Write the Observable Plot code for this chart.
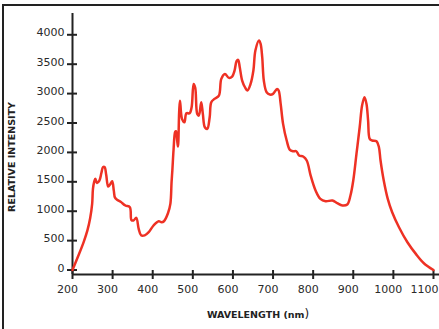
<!DOCTYPE html>
<html><head><meta charset="utf-8">
<script src="https://cdn.jsdelivr.net/npm/d3@7"></script>
<script src="https://cdn.jsdelivr.net/npm/@observablehq/plot@0.6"></script>
<style>html,body{margin:0;padding:0;background:#fff;} #chart{width:439px;height:329px;overflow:hidden}</style>
</head><body><div id="chart"></div>
<script>
const wavelength = [200,215,228,237,244,249,251,254,257,261,267,272,276,280,284,289,294,299,303,306,312,320,332,343,347,352,359,365,371,380,390,402,415,422,428,438,444,447,449,452,456,458,461,463,466,468,473,479,484,492,497,502,506,511,515,521,525,530,536,542,546,554,565,571,580,590,598,604,609,613,617,623,630,636,644,651,656,665,669,673,677,684,692,700,710,714,719,725,734,742,750,758,765,775,784,794,806,818,831,848,860,873,885,893,900,908,916,922,928,933,937,941,947,958,964,968,976,986,997,1014,1035,1056,1076,1100];
const intensity = [0,250,480,670,880,1125,1380,1500,1550,1480,1520,1650,1748,1750,1620,1420,1460,1510,1350,1230,1190,1160,1097,1068,850,842,887,700,590,590,643,757,830,813,830,966,1125,1500,1700,2050,2350,2360,2200,2100,2700,2880,2570,2513,2666,2666,2768,3165,3100,2655,2626,2853,2655,2428,2400,2598,2853,2910,2966,3250,3335,3267,3290,3391,3550,3574,3448,3222,3108,3052,3165,3392,3732,3902,3845,3618,3222,3023,2984,2995,3080,3052,2825,2485,2202,2043,2020,2020,1947,1930,1862,1600,1352,1210,1170,1182,1136,1097,1114,1267,1522,1976,2428,2797,2938,2825,2542,2230,2202,2190,2088,1862,1522,1210,983,728,473,275,116,0];
const xTicks = [200,300,400,500,600,700,800,900,1000,1100];
const yTicks = [0,500,1000,1500,2000,2500,3000,3500,4000];
const xTitle = "WAVELENGTH (nm";
const xTitleEnd = ")";
const yTitle = "RELATIVE INTENSITY";

const data = wavelength.map((w, i) => ({w, v: intensity[i]}));
const ink = "#222";
const fmt = d3.format("d");
const lastX = xTicks[xTicks.length - 1];
const plot = Plot.plot({
  width: 439, height: 329,
  marginLeft: 72, marginRight: 0, marginTop: 13, marginBottom: 55,
  x: {domain: [200, 1115]},
  y: {domain: [-76, 4362]},
  style: {fontFamily: "DejaVu Sans", fontSize: "11px", color: "#2a2a2a", background: "white"},
  marks: [
    Plot.ruleX([200], {stroke: ink, strokeWidth: 2}),
    Plot.ruleY([-76], {stroke: ink, strokeWidth: 2}),
    Plot.axisX(xTicks, {tickSize: 9, dy: -4, strokeWidth: 2, stroke: ink, tickFormat: () => "", label: null}),
    Plot.axisX(xTicks.slice(0, -1), {tickSize: 0, tickPadding: 11, dx: -5, tickFormat: fmt, label: null, fill: "#2a2a2a"}),
    Plot.axisX([lastX], {tickSize: 0, tickPadding: 11, dx: 5, textAnchor: "end", tickFormat: fmt, label: null, fill: "#2a2a2a"}),
    Plot.axisY(yTicks, {tickSize: 10, dx: 5, strokeWidth: 2, stroke: ink, tickFormat: () => "", label: null}),
    Plot.axisY(yTicks, {tickSize: 0, tickPadding: 8, dy: -2, tickFormat: fmt, label: null, fill: "#2a2a2a"}),
    Plot.line(data, {x: "w", y: "v", stroke: "#ee3124", strokeWidth: 2.5, curve: "catmull-rom"})
  ]
});
const svg = d3.select(plot);
svg.append("line").attr("x1", 2).attr("x2", 439).attr("y1", 5).attr("y2", 5).attr("stroke", ink).attr("stroke-width", 2);
svg.append("line").attr("x1", 3).attr("x2", 3).attr("y1", 4).attr("y2", 329).attr("stroke", ink).attr("stroke-width", 2);
const xt = svg.append("text").attr("x", 258).attr("y", 318).attr("text-anchor", "middle")
  .attr("font-family", "DejaVu Sans").attr("font-size", 9.5).attr("font-weight", "bold").attr("fill", "#222");
xt.append("tspan").text(xTitle);
xt.append("tspan").attr("font-weight", "normal").attr("font-size", 12).text(xTitleEnd);
svg.append("text").attr("transform", "translate(15,157) rotate(-90)").attr("text-anchor", "middle")
  .attr("font-family", "DejaVu Sans").attr("font-size", 9.5).attr("font-weight", "bold").attr("fill", "#222")
  .text(yTitle);
document.getElementById("chart").append(plot);
</script>
</body></html>
